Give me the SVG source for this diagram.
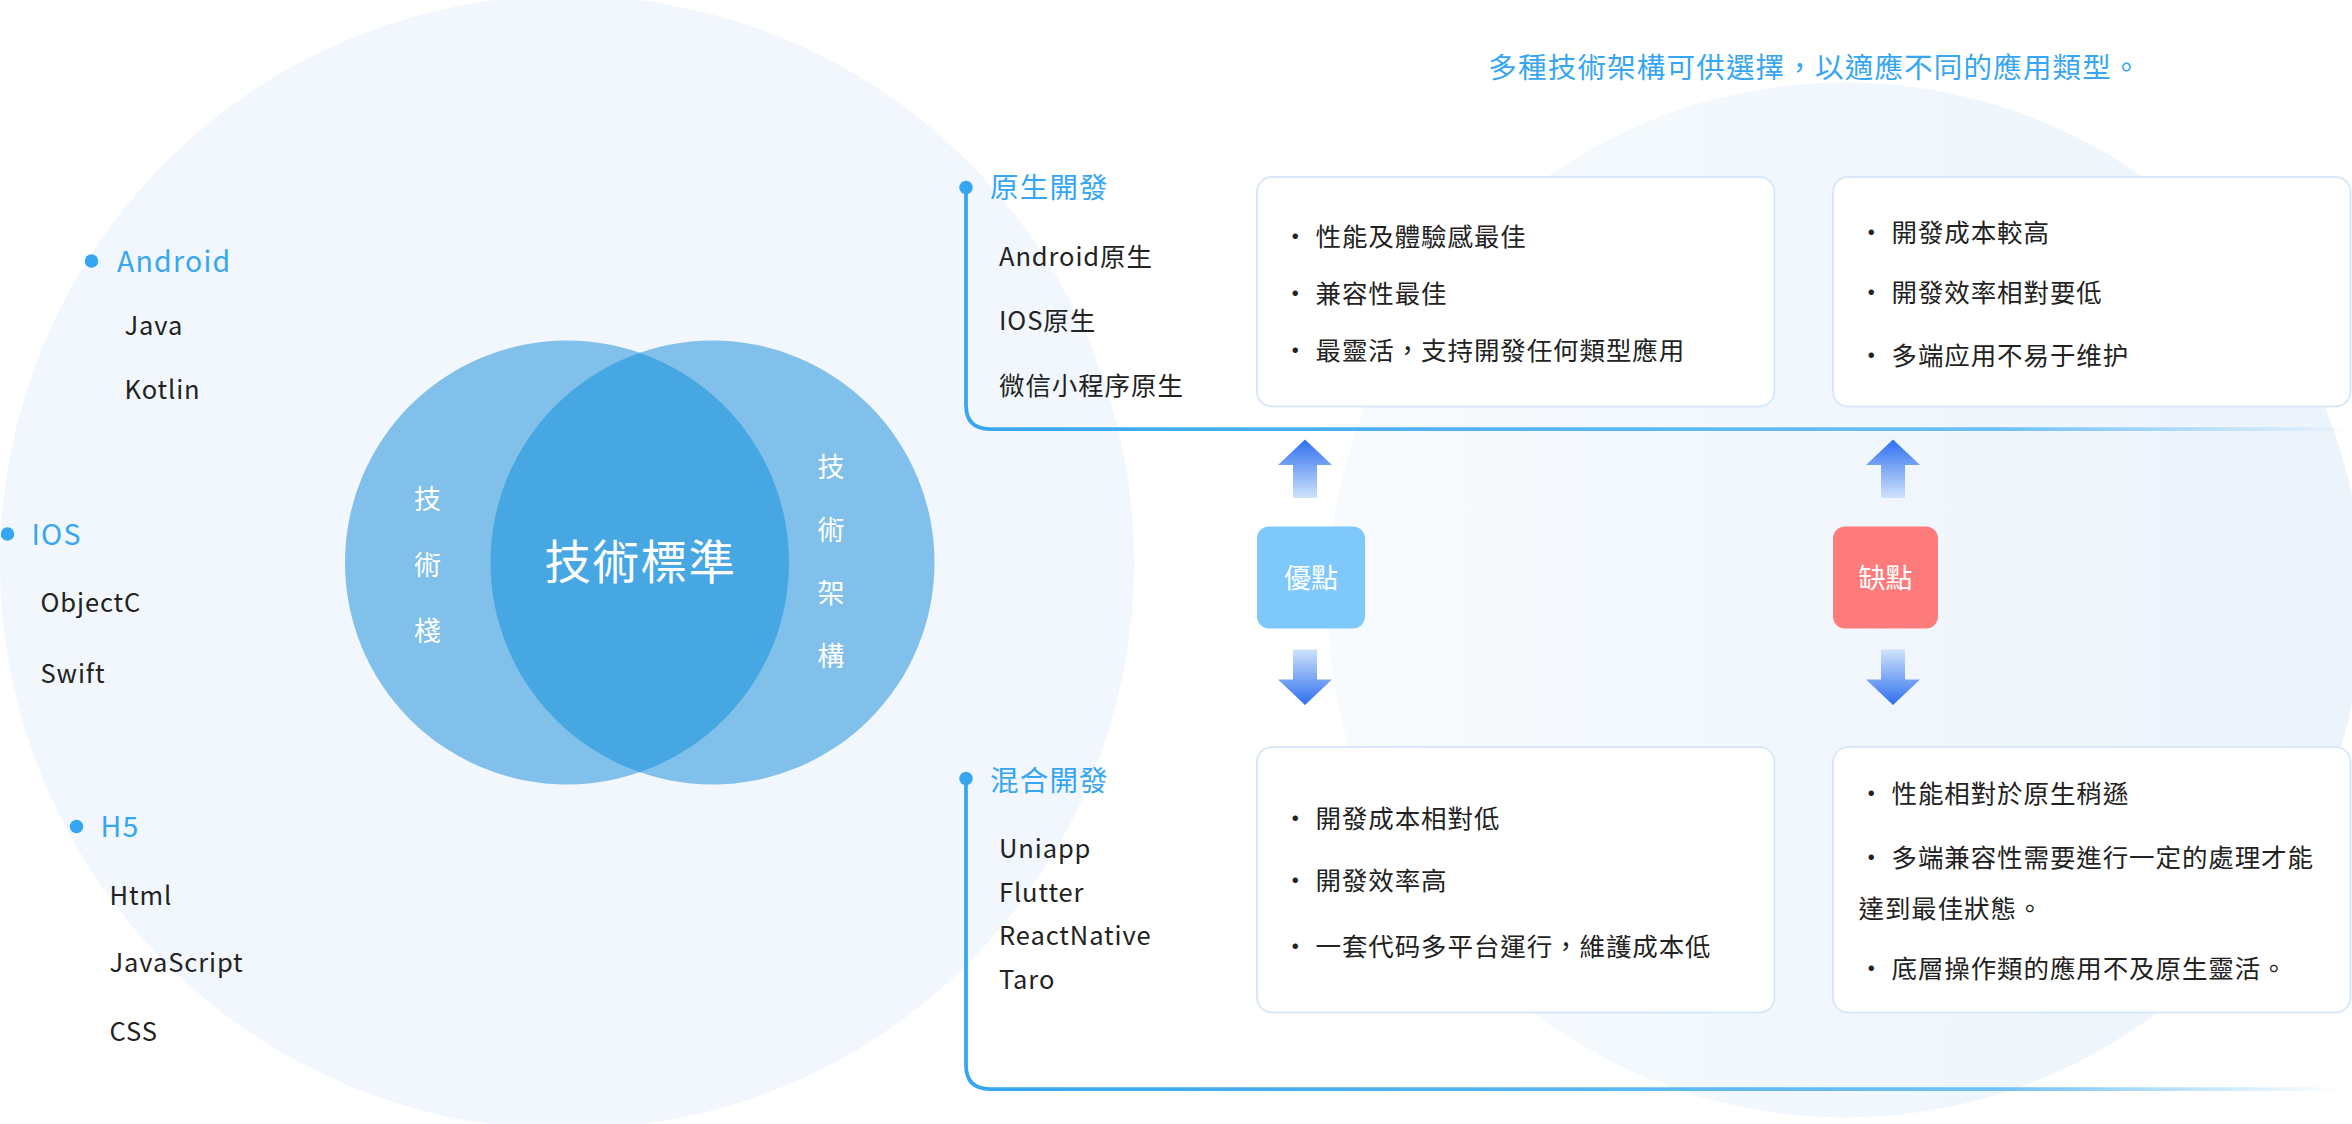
<svg xmlns="http://www.w3.org/2000/svg" width="2352" height="1124" viewBox="0 0 2352 1124">
<defs>
<style>
.t{font-family:"Noto Sans CJK TC","Noto Sans",sans-serif;font-size:17px;fill:#222;letter-spacing:0.6px}
.b{font-family:"Noto Sans CJK TC","Noto Sans",sans-serif;font-size:19px;fill:#36a6f2;letter-spacing:0.8px}
.w{font-family:"Noto Sans CJK TC",sans-serif;fill:#fff}
.box{fill:#fff;stroke:#d9e7f8;stroke-width:1.3}
.dot{fill:#36a6f2}
</style>
<linearGradient id="lg" x1="0" x2="1" y1="0" y2="0"><stop offset="0" stop-color="#36a6f2"/><stop offset="0.75" stop-color="#6fc0f5"/><stop offset="1" stop-color="#6fc0f5" stop-opacity="0"/></linearGradient>
<linearGradient id="bg2" x1="0" x2="1" y1="0" y2="0"><stop offset="0" stop-color="#f7fbfe"/><stop offset="1" stop-color="#ebf3fb"/></linearGradient>
<linearGradient id="ar" x1="0" x2="0" y1="0" y2="1"><stop offset="0" stop-color="#2e6ff0"/><stop offset="1" stop-color="#cfe3fb"/></linearGradient>
<linearGradient id="ad" x1="0" x2="0" y1="0" y2="1"><stop offset="0" stop-color="#cfe3fb"/><stop offset="1" stop-color="#2e6ff0"/></linearGradient>
<clipPath id="cl"><circle cx="378" cy="375" r="148"/></clipPath>
</defs>
<g transform="scale(1.5)">
<rect width="1568" height="749" fill="#fff"/>
<circle cx="1230" cy="400" r="345" fill="url(#bg2)"/>
<circle cx="378" cy="375" r="378" fill="#f1f7fc"/>
<g id="venn">
<circle cx="378" cy="375" r="148" fill="#80c0ea"/>
<circle cx="475" cy="375" r="148" fill="#80c0ea"/>
<circle cx="475" cy="375" r="148" fill="#46a7e3" clip-path="url(#cl)"/>
<text x="427" y="386" class="w" font-size="31" letter-spacing="1" text-anchor="middle">技術標準</text>
<text class="w" font-size="18" text-anchor="middle"><tspan x="285" y="339">技</tspan><tspan x="285" y="383">術</tspan><tspan x="285" y="427">棧</tspan></text>
<text class="w" font-size="18" text-anchor="middle"><tspan x="554" y="318">技</tspan><tspan x="554" y="360">術</tspan><tspan x="554" y="402">架</tspan><tspan x="554" y="444">構</tspan></text>
</g>
<g id="stack">
<circle class="dot" cx="61" cy="174" r="4.5"/><text x="78" y="181" class="b">Android</text>
<text x="83" y="223" class="t">Java</text><text x="83" y="266" class="t">Kotlin</text>
<circle class="dot" cx="5" cy="356" r="4.5"/><text x="21" y="363" class="b">IOS</text>
<text x="27" y="408" class="t">ObjectC</text><text x="27" y="455" class="t">Swift</text>
<circle class="dot" cx="51" cy="551" r="4.5"/><text x="67" y="558" class="b">H5</text>
<text x="73" y="603" class="t">Html</text><text x="73" y="648" class="t">JavaScript</text><text x="73" y="694" class="t">CSS</text>
</g>
<text x="1210" y="52" class="b" font-size="18" text-anchor="middle">多種技術架構可供選擇，以適應不同的應用類型。</text>
<g id="connectors" fill="none" stroke="url(#lg)" stroke-width="2.5">
<path d="M644 125 V270 Q644 286 660 286 H1568"/>
<path d="M644 519 V710 Q644 726 660 726 H1560"/>
</g>
<g id="native">
<circle class="dot" cx="644" cy="125" r="4.5"/><text x="660" y="132" class="b">原生開發</text>
<text x="666" y="177" class="t">Android原生</text><text x="666" y="220" class="t">IOS原生</text><text x="666" y="263" class="t">微信小程序原生</text>
</g>
<g id="hybrid">
<circle class="dot" cx="644" cy="519" r="4.5"/><text x="660" y="527" class="b">混合開發</text>
<text x="666" y="572" class="t">Uniapp</text><text x="666" y="601" class="t">Flutter</text><text x="666" y="630" class="t">ReactNative</text><text x="666" y="659" class="t">Taro</text>
</g>
<g id="pro1"><rect class="box" x="838" y="118" width="345" height="153" rx="10"/>
<text class="t"><tspan x="855" y="164">· 性能及體驗感最佳</tspan><tspan x="855" y="202">· 兼容性最佳</tspan><tspan x="855" y="240">· 最靈活，支持開發任何類型應用</tspan></text></g>
<g id="con1"><rect class="box" x="1222" y="118" width="345" height="153" rx="10"/>
<text class="t"><tspan x="1239" y="161">· 開發成本較高</tspan><tspan x="1239" y="201">· 開發效率相對要低</tspan><tspan x="1239" y="243">· 多端应用不易于维护</tspan></text></g>
<g id="pro2"><rect class="box" x="838" y="498" width="345" height="177" rx="10"/>
<text class="t"><tspan x="855" y="552">· 開發成本相對低</tspan><tspan x="855" y="593">· 開發效率高</tspan><tspan x="855" y="637">· 一套代码多平台運行，維護成本低</tspan></text></g>
<g id="con2"><rect class="box" x="1222" y="498" width="345" height="177" rx="10"/>
<text class="t"><tspan x="1239" y="535">· 性能相對於原生稍遜</tspan><tspan x="1239" y="578">· 多端兼容性需要進行一定的處理才能</tspan><tspan x="1239" y="612">達到最佳狀態。</tspan><tspan x="1239" y="652">· 底層操作類的應用不及原生靈活。</tspan></text></g>
<g id="arrows">
<path d="M870 293 L888 310 H878 V332 H862 V310 H852 Z" fill="url(#ar)"/>
<path d="M1262 293 L1280 310 H1270 V332 H1254 V310 H1244 Z" fill="url(#ar)"/>
<path d="M862 433 H878 V453 H888 L870 470 L852 453 H862 Z" fill="url(#ad)"/>
<path d="M1254 433 H1270 V453 H1280 L1262 470 L1244 453 H1254 Z" fill="url(#ad)"/>
</g>
<g id="good"><rect x="838" y="351" width="72" height="68" rx="8" fill="#7ec8fb"/><text x="874" y="392" class="w" font-size="18" text-anchor="middle">優點</text></g>
<g id="bad"><rect x="1222" y="351" width="70" height="68" rx="8" fill="#fe7b7b"/><text x="1257" y="392" class="w" font-size="18" text-anchor="middle">缺點</text></g>
</g>
</svg>
